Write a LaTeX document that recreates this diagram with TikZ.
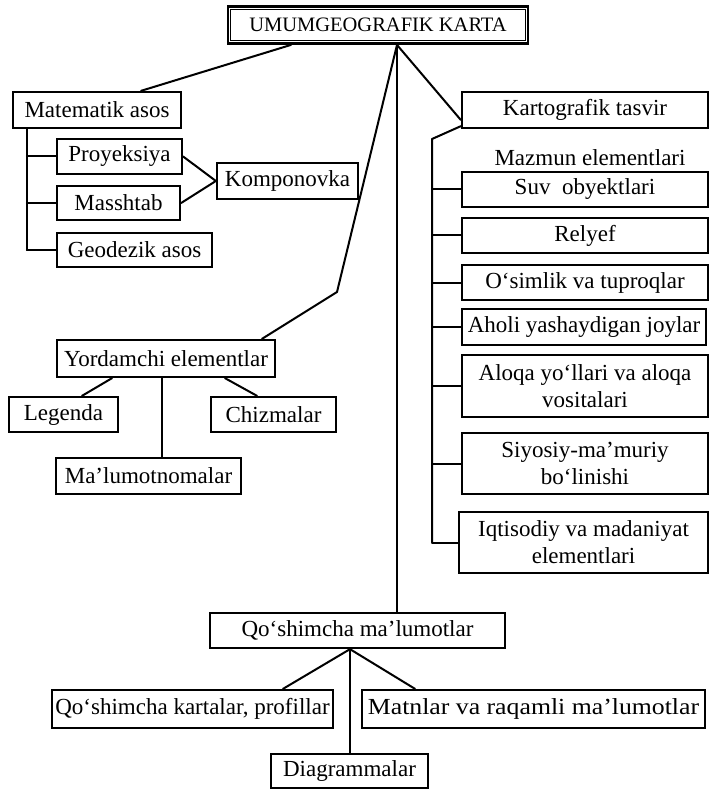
\documentclass[tikz,border=0pt]{standalone}
\usepackage{fontspec}
\setmainfont{Liberation Serif}
\begin{document}
\begin{tikzpicture}[x=1pt,y=-1pt,
  box/.style 2 args={draw, line width=2.3pt, inner sep=0pt, align=center,
    font=\fontsize{23}{27}\selectfont, minimum width=#1, minimum height=#2},
  conn/.style={line width=2pt, line cap=round, line join=round}]
\useasboundingbox (0,0) rectangle (713,791);
% title
\node[box={300pt}{37pt}, line width=2.8pt, font=\fontsize{20.5}{24}\selectfont] (title) at (378,25) {UMUMGEOGRAFIK KARTA};
\draw[line width=0.8pt] ([shift={(4pt,4pt)}]title.south west) rectangle ([shift={(-4pt,-4pt)}]title.north east);
% left branch
\node[box={168pt}{36pt}] (mat) at (97,110) {Matematik asos};
\node[box={125pt}{35pt}] (proy) at (119.5,156.5) {Proyeksiya};
\node[box={123pt}{34pt}] (mass) at (118.5,203) {Masshtab};
\node[box={155pt}{34pt}] (geo) at (134.5,250) {Geodezik asos};
\node[box={141pt}{36pt}] (komp) at (287.5,181) {Komponovka};
% auxiliary
\node[box={218pt}{37pt}] (yord) at (166,358.5) {Yordamchi elementlar};
\node[box={109pt}{35pt}] (leg) at (63.5,414.5) {Legenda};
\node[box={125pt}{35pt}] (chiz) at (273.5,414.5) {Chizmalar};
\node[box={185pt}{36pt}] (malum) at (148.5,476) {Ma’lumotnomalar};
% right branch
\node[box={246pt}{36pt}] (kart) at (585,110) {Kartografik tasvir};
\node[font=\fontsize{23}{27}\selectfont, inner sep=0pt] (mazmun) at (590,158) {Mazmun elementlari};
\node[box={246pt}{35pt}] (suv) at (585,189.5) {Suv\ \ obyektlari};
\node[box={246pt}{35pt}] (rel) at (585,235.5) {Relyef};
\node[box={246pt}{35pt}] (osim) at (585,282.5) {O‘simlik va tuproqlar};
\node[box={244pt}{36pt}] (aholi) at (584,327) {Aholi yashaydigan joylar};
\node[box={246pt}{62pt}] (aloqa) at (585,386) {Aloqa yo‘llari va aloqa\\vositalari};
\node[box={246pt}{61pt}] (siyos) at (585,463.5) {Siyosiy-ma’muriy\\bo‘linishi};
\node[box={249pt}{61pt}] (iqt) at (583.5,542.5) {Iqtisodiy va madaniyat\\elementlari};
% bottom
\node[box={295pt}{35pt}] (qosh) at (357.5,630.5) {Qo‘shimcha ma’lumotlar};
\node[box={281pt}{38pt}] (qkart) at (192.5,709) {Qo‘shimcha kartalar, profillar};
\node[box={343pt}{38pt}] (matn) at (533.5,709) {\scalebox{1.12}[1]{Matnlar va raqamli ma’lumotlar}};
\node[box={157pt}{34pt}] (diag) at (349.5,771) {Diagrammalar};
% connectors from title
\coordinate (apex) at ([xshift=19pt]title.south);
\coordinate (bend) at (337,292);
\draw[conn] ([xshift=-87pt]title.south) -- ([xshift=44pt]mat.north);
\draw[conn] (apex) -- ([yshift=-10pt]kart.west);
\draw[conn] (apex) -- (bend) -- ([xshift=96pt]yord.north);
\draw[conn] (apex) -- (apex |- qosh.north);
% left spine
\coordinate (ls) at ([xshift=15pt]mat.south west);
\draw[conn] (ls) -- (ls |- geo.west);
\draw[conn] (ls |- proy.west) -- (proy.west);
\draw[conn] (ls |- mass.west) -- (mass.west);
\draw[conn] (ls |- geo.west) -- (geo.west);
\draw[conn] (proy.east) -- (komp.west);
\draw[conn] (mass.east) -- (komp.west);
% auxiliary connectors
\draw[conn] ([xshift=-54pt]yord.south) -- ([xshift=18.5pt]leg.north);
\draw[conn] ([xshift=59pt]yord.south) -- ([xshift=-16.5pt]chiz.north);
\coordinate (ym) at ([xshift=-4pt]yord.south);
\draw[conn] (ym) -- (ym |- malum.north);
% right spine
\coordinate (rs) at (432,139);
\draw[conn] ([yshift=3pt]kart.south west) -- (rs) -- (rs |- iqt.west);
\foreach \b in {suv,rel,osim,aholi,aloqa,siyos,iqt}
  \draw[conn] (rs |- \b.west) -- (\b.west);
% bottom connectors
\coordinate (qb) at ([xshift=-7.5pt]qosh.south);
\draw[conn] (qb) -- ([xshift=90.5pt]qkart.north);
\draw[conn] (qb) -- ([xshift=-118.5pt]matn.north);
\draw[conn] (qb) -- (qb |- diag.north);
\end{tikzpicture}
\end{document}
